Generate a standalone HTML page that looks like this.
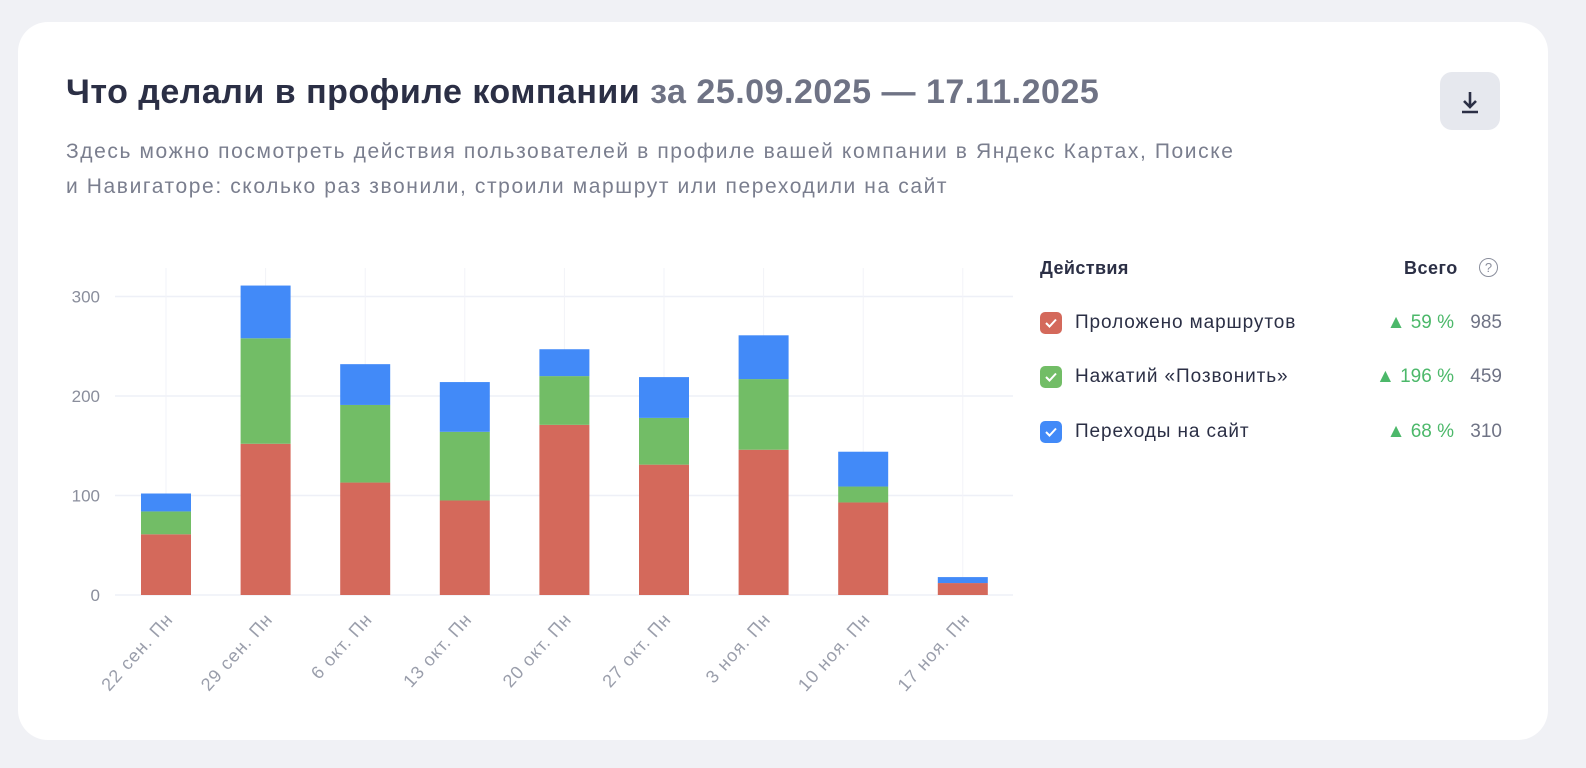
<!DOCTYPE html>
<html><head><meta charset="utf-8">
<style>
body{margin:0;width:1586px;height:768px;background:#f0f1f5;font-family:"Liberation Sans","Noto Sans CJK SC",sans-serif;overflow:hidden;position:relative}
.card{position:absolute;left:18px;top:22px;width:1530px;height:718px;background:#fff;border-radius:30px}
.abs{position:absolute}
.row{position:absolute;left:1040px;height:24px;width:462px}
.cb{position:absolute;left:0;top:0;width:22px;height:22px;border-radius:5px}
.cb svg{position:absolute;left:4px;top:5px}
.lbl{position:absolute;left:35px;top:0;font-size:19px;letter-spacing:0.9px;color:#2b2f45;line-height:22px;white-space:nowrap}
.pct{position:absolute;right:48px;top:0;font-size:19px;color:#4cb86a;line-height:22px;white-space:nowrap}
.val{position:absolute;right:0;top:0;font-size:19px;color:#6f7385;line-height:22px}
</style></head><body>
<div class="card"></div>
<div class="abs" style="left:66px;top:73px;font-size:34px;letter-spacing:0.5px;font-weight:bold;color:#2b2f45;white-space:nowrap">Что делали в профиле компании <span style="color:#6f7385">за 25.09.2025 — 17.11.2025</span></div>
<div class="abs" style="left:1440px;top:72px;width:60px;height:58px;background:#e6e8ee;border-radius:12px">
<svg width="60" height="58"><path d="M30 20v15M24 29l6 6 6-6M22 40h16" stroke="#2b2f45" stroke-width="2.6" fill="none"/></svg></div>
<div class="abs" style="left:66px;top:134px;font-size:21px;letter-spacing:1.6px;line-height:35px;color:#7a7e8e;width:1300px;white-space:nowrap">Здесь можно посмотреть действия пользователей в профиле вашей компании в Яндекс Картах, Поиске<br>и Навигаторе: сколько раз звонили, строили маршрут или переходили на сайт</div>
<svg class="abs" style="left:0;top:0" width="1030" height="768" id="chart"></svg>
<div class="abs" style="left:1040px;top:258px;font-size:18px;letter-spacing:0.4px;font-weight:bold;color:#2b2f45">Действия</div>
<div class="abs" style="left:1404px;top:258px;font-size:18px;letter-spacing:0.5px;font-weight:bold;color:#2b2f45">Всего</div>
<div class="abs" style="left:1479px;top:258px;width:17px;height:17px;border:1.5px solid #8a8e9c;border-radius:50%;font-size:13px;color:#8a8e9c;text-align:center;line-height:17px">?</div>
<div class="row" style="top:312px"><div class="cb" style="background:#d4695b"><svg width="14" height="12"><path d="M2 6l3.5 3.5L12 2.5" stroke="#fff" stroke-width="2" fill="none"/></svg></div><div class="lbl">Проложено маршрутов</div><div class="pct">▲ 59 %</div><div class="val">985</div></div>
<div class="row" style="top:366px"><div class="cb" style="background:#72bd66"><svg width="14" height="12"><path d="M2 6l3.5 3.5L12 2.5" stroke="#fff" stroke-width="2" fill="none"/></svg></div><div class="lbl">Нажатий «Позвонить»</div><div class="pct">▲ 196 %</div><div class="val">459</div></div>
<div class="row" style="top:421px"><div class="cb" style="background:#428af8"><svg width="14" height="12"><path d="M2 6l3.5 3.5L12 2.5" stroke="#fff" stroke-width="2" fill="none"/></svg></div><div class="lbl">Переходы на сайт</div><div class="pct">▲ 68 %</div><div class="val">310</div></div>
<script>
const categories=["22 сен. Пн","29 сен. Пн","6 окт. Пн","13 окт. Пн","20 окт. Пн","27 окт. Пн","3 ноя. Пн","10 ноя. Пн","17 ноя. Пн"];
const routes=[61,152,113,95,171,131,146,93,12];
const calls=[23,106,78,69,49,47,71,16,0];
const site=[18,53,41,50,27,41,44,35,6];
const yTicks=[0,100,200,300];
const svg=document.getElementById('chart');
const NS='http://www.w3.org/2000/svg';
const y0=595,k=0.995,x0=166,step=99.6,bw=50;
const y=v=>y0-v*k, x=i=>x0+i*step;
function mk(t,a){const e=document.createElementNS(NS,t);for(const n in a)e.setAttribute(n,a[n]);svg.appendChild(e);return e;}
yTicks.forEach(t=>{
 const l=mk('line',{x1:115,x2:1013,y1:y(t),y2:y(t),stroke:'#eef0f7','stroke-width':1.5});
 
 
 const tx=mk('text',{x:100,y:y(t)+6,'text-anchor':'end','font-size':17,fill:'#8a8e9c','font-family':'Liberation Sans'});
 tx.textContent=t;
 
 
});
categories.forEach((c,i)=>{
 const g=mk('line',{x1:x(i),x2:x(i),y1:268,y2:595,stroke:'#f2f3f8','stroke-width':1});
 
 
 let base=0;
 [[routes,'#d4695b','bar-routes'],[calls,'#72bd66','bar-calls'],[site,'#428af8','bar-site']].forEach(([arr,col,nm])=>{
  const v=arr[i]; if(v<=0)return;
  const r=mk('rect',{x:x(i)-bw/2,y:y(base+v),width:bw,height:v*k,fill:col});
  
  
  base+=v;
 });
 const t=mk('text',{x:0,y:0,'text-anchor':'end','font-size':18,'letter-spacing':1,fill:'#9a9eab','font-family':'Liberation Sans',transform:`translate(${x(i)+8},${620}) rotate(-48)`});
 t.textContent=c;
 
 
});
</script>
</body></html>
